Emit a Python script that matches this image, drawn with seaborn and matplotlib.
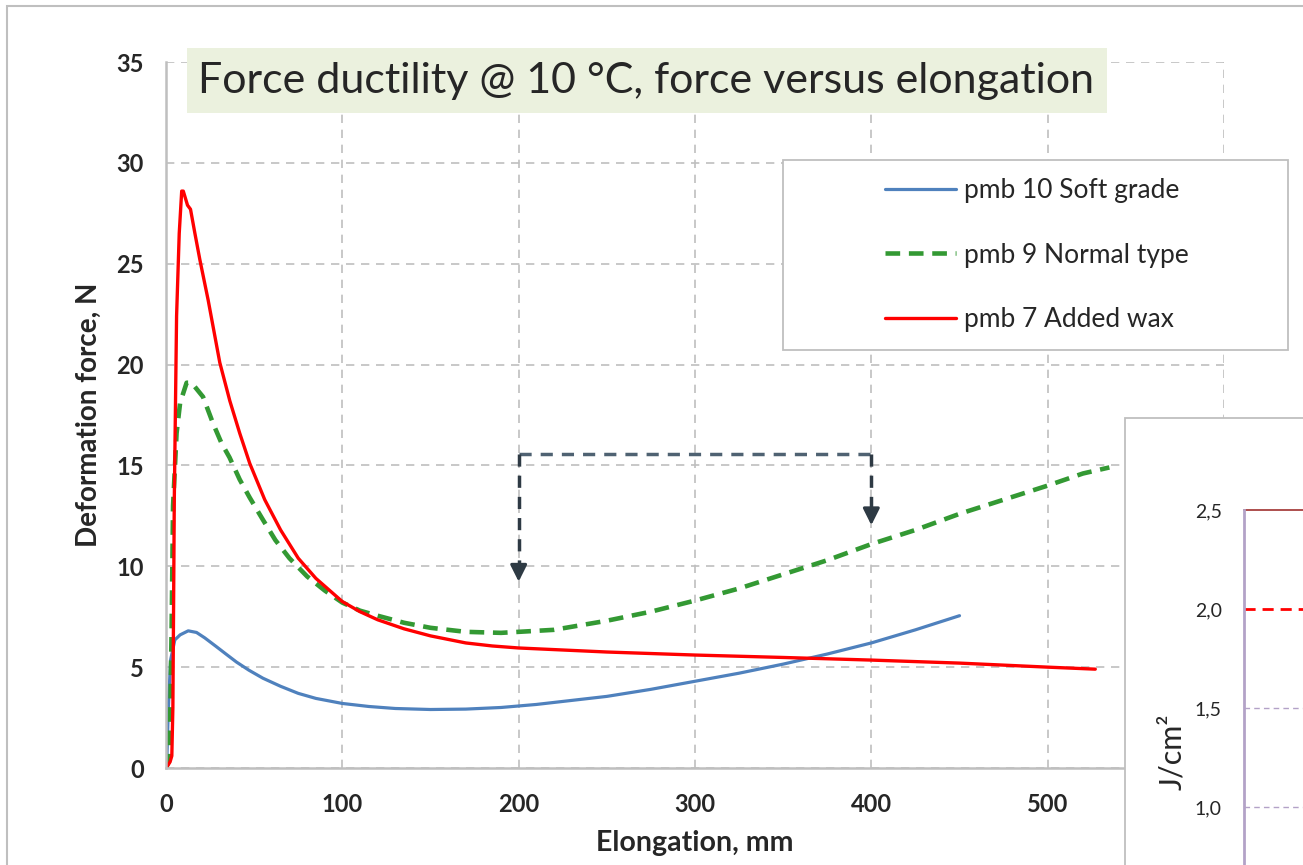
import numpy as np
import pandas as pd
import seaborn as sns
import matplotlib.pyplot as plt
from matplotlib.patches import Rectangle
from matplotlib.ticker import MultipleLocator

sns.set_style('white')
plt.rcParams['font.family'] = ['Lato', 'DejaVu Sans']

# pmb 10 Soft grade
soft_x = [0, 0.4, 1.3, 2.6, 5, 8, 12.6, 17.3, 22, 28.5, 34, 40, 47, 55, 65, 75, 85, 100, 115, 130,
          150, 170, 190, 210, 230, 250, 275, 300, 325, 350, 375, 400, 425, 450]
soft_y = [0, 0.15, 2.9, 5.35, 6.35, 6.6, 6.8, 6.72, 6.45, 6.02, 5.65, 5.25, 4.85, 4.45, 4.05, 3.7, 3.45, 3.2, 3.05, 2.95,
          2.9, 2.92, 3.0, 3.15, 3.35, 3.55, 3.9, 4.3, 4.7, 5.15, 5.65, 6.2, 6.85, 7.55]

# pmb 9 Normal type
normal_x = [0, 1.5, 2.5, 3.2, 4, 6, 8, 11.7, 14.5, 21, 26.6, 31.5, 36, 41.8, 47.5, 55, 62, 70, 80, 90, 100,
            110, 120, 135, 150, 170, 190, 200, 220, 250, 275, 300, 325, 350, 375, 400, 425, 450, 475,
            500, 520, 535]
normal_y = [0, 0.3, 3, 7, 13, 16.6, 18.1, 19.1, 19.1, 18.4, 17.1, 16.1, 15.4, 14.3, 13.4, 12.3, 11.3, 10.4, 9.5, 8.8, 8.2,
            7.8, 7.55, 7.2, 6.95, 6.75, 6.7, 6.75, 6.85, 7.3, 7.75, 8.3, 8.9, 9.6, 10.3, 11.1, 11.8, 12.6, 13.3,
            14.0, 14.6, 14.9]

# pmb 7 Added wax
wax_x = [0, 2.3, 3.3, 3.9, 4.3, 4.7, 6, 7.5, 8.9, 9.8, 12.2, 13.9, 16.4, 19.2, 23.9, 30.5, 36.2, 41.8, 47.5,
         56, 65, 75, 85, 100, 110, 120, 135, 150, 170, 185, 200, 250, 300, 350, 400, 450, 500, 527]
wax_y = [0, 0.3, 0.6, 3, 8, 13.3, 22.4, 26.5, 28.6, 28.6, 27.9, 27.7, 26.5, 25.2, 23.2, 20.1, 18.2, 16.6, 15.1,
         13.3, 11.8, 10.4, 9.4, 8.25, 7.75, 7.35, 6.9, 6.55, 6.2, 6.05, 5.95, 5.75, 5.6, 5.48, 5.35, 5.2, 5.0, 4.9]

# x ticks (600 is hidden behind the inset chart)
x_ticks = [0, 100, 200, 300, 400, 500, 600]
x_labels = ['0', '100', '200', '300', '400', '500', '']

# dashed bracket with arrows
bracket_x = [200, 400]
bracket_top = 15.55
arrow_tips = [9.1, 11.9]

# inset axis (energy, J/cm2)
inset_ticks = [1.0, 1.5, 2.0, 2.5]
inset_labels = ['1,0', '1,5', '2,0', '2,5']
inset_limit = 2.0

W, H = 1303, 865
fig = plt.figure(figsize=(W / 100, H / 100), dpi=100)

def fx(px):
    return px / W

def fy(py):
    return 1 - py / H

ax = fig.add_axes([fx(166), fy(768), fx(1224) - fx(166), fy(62) - fy(768)])

grey = '#BFBFBF'
sns.lineplot(x=soft_x, y=soft_y, ax=ax, color='#4F81BD', lw=2.3, sort=False,
             label='pmb 10 Soft grade')
sns.lineplot(x=normal_x, y=normal_y, ax=ax, color='#339933', lw=3.3, sort=False,
             linestyle=(0, (3.2, 1.9)), label='pmb 9 Normal type')
sns.lineplot(x=wax_x, y=wax_y, ax=ax, color='#FF0000', lw=2.4, sort=False,
             label='pmb 7 Added wax')

# bracket
ax.plot(bracket_x, [bracket_top, bracket_top], color='#4F6272', lw=2.5,
        linestyle=(0, (3.5, 2.6)), zorder=4)
for bx, tip in zip(bracket_x, arrow_tips):
    ax.plot([bx, bx], [bracket_top, tip + 0.6], color='#2E3A44', lw=2.5,
            linestyle=(0, (3.5, 2.6)), zorder=4)
    ax.annotate('', xy=(bx, tip), xytext=(bx, tip + 0.9),
                arrowprops=dict(arrowstyle='-|>,head_length=1.0,head_width=0.5',
                                color='#2E3A44', lw=2.2), zorder=4)

ax.set_xlim(0, 600)
ax.set_ylim(0, 35)
ax.set_xticks(x_ticks)
ax.set_xticklabels(x_labels)
ax.xaxis.set_minor_locator(MultipleLocator(20))
ax.yaxis.set_major_locator(MultipleLocator(5))
ax.yaxis.set_minor_locator(MultipleLocator(1))
ax.grid(True, which='major', color=grey, lw=1.2, linestyle=(0, (5, 4)))
for s in ['top', 'right']:
    ax.spines[s].set_visible(False)
for s in ['left', 'bottom']:
    ax.spines[s].set_color(grey)
    ax.spines[s].set_linewidth(1.8)
ax.tick_params(which='both', direction='in', color=grey, width=1.3)
ax.tick_params(which='major', length=0)
ax.tick_params(which='minor', length=5)
ax.tick_params(axis='x', which='major', pad=18, labelsize=17)
ax.tick_params(axis='y', which='major', pad=16, labelsize=17)
for lab in ax.get_xticklabels() + ax.get_yticklabels():
    lab.set_fontweight('bold')
ax.set_xlabel('Elongation, mm', fontsize=20.5, fontweight='bold', labelpad=10)
ax.set_ylabel('Deformation force, N', fontsize=20, fontweight='bold', labelpad=10)

handles, labels = ax.get_legend_handles_labels()
if ax.get_legend() is not None:
    ax.get_legend().remove()

# outer chart border
fig.add_artist(Rectangle((fx(7), -0.1), 1.2, fy(6) + 0.1, transform=fig.transFigure,
                         facecolor='none', edgecolor=grey, lw=1.5, zorder=1))

# title box
fig.add_artist(Rectangle((fx(187), fy(113)), fx(1107) - fx(187), fy(48) - fy(113),
                         transform=fig.transFigure, facecolor='#EBF1DE', edgecolor='none', zorder=4))
fig.text(fx(646), fy(81), 'Force ductility @ 10 °C, force versus elongation',
         fontsize=31, ha='center', va='center', zorder=5)

# legend
fig.add_artist(Rectangle((fx(783), fy(350)), fx(1288) - fx(783), fy(160) - fy(350),
                         transform=fig.transFigure, facecolor='white', edgecolor=grey, lw=1.3, zorder=4))
leg = fig.legend(handles, labels, loc='center left', bbox_to_anchor=(fx(885), fy(255)),
                 frameon=False, fontsize=19, handlelength=2.7, handletextpad=0.3,
                 labelspacing=1.5, borderpad=0, borderaxespad=0)
leg.set_zorder(5)

# inset chart (partly visible at the right edge)
fig.add_artist(Rectangle((fx(1125), -0.1), 0.3, fy(418) + 0.1, transform=fig.transFigure,
                         facecolor='white', edgecolor=grey, lw=1.3, zorder=2))
iax = fig.add_axes([fx(1244), 0, 0.1, fy(510)])
iax.set_zorder(3)
iax.patch.set_alpha(0)
iax.set_ylim(2.5 - (H - 510) / 198, 2.5)
iax.set_xlim(0, 1)
iax.set_yticks(inset_ticks)
iax.set_yticklabels(inset_labels, fontsize=14)
iax.tick_params(axis='y', length=0, pad=16)
iax.set_xticks([])
for s in ['top', 'right', 'bottom']:
    iax.spines[s].set_visible(False)
iax.spines['left'].set_color('#B3A2C7')
iax.spines['left'].set_linewidth(2)
for t in inset_ticks[:2]:
    iax.axhline(t, color='#B3A2C7', lw=1, linestyle=(0, (4, 3)))
iax.axhline(inset_limit, color='#FF0000', lw=2, linestyle=(0, (4, 2.5)))
iax.axhline(inset_ticks[-1], color='#A0302F', lw=1.2, clip_on=False)
fig.text(fx(1172), fy(752), 'J/cm²', fontsize=22, rotation=90, ha='center', va='center', zorder=5)

plt.savefig('out.png', dpi=100)
